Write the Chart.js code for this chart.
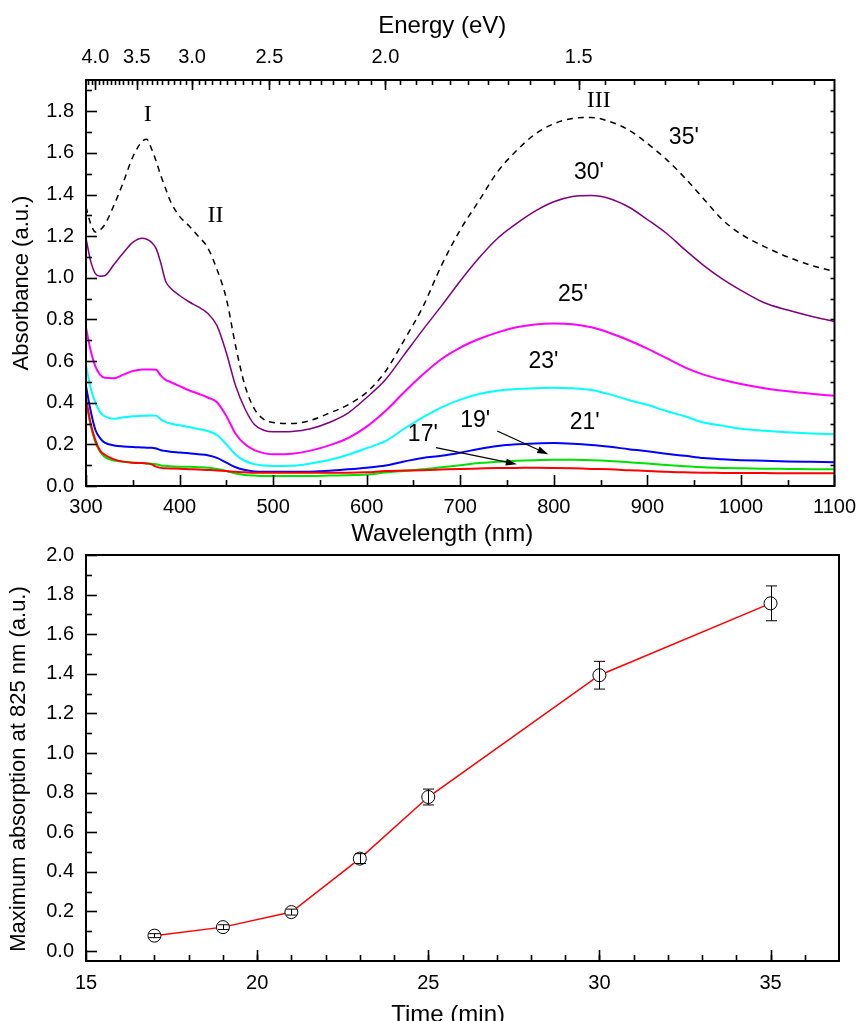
<!DOCTYPE html>
<html>
<head>
<meta charset="utf-8">
<script src="https://cdn.jsdelivr.net/npm/chart.js@4.4.0/dist/chart.umd.min.js"></script>
<style>
  html, body { margin: 0; padding: 0; background: #fff; }
  #wrap { position: relative; width: 865px; height: 1021px; overflow: hidden; }
  canvas { position: absolute; left: 0; }
  #spectra { top: 0; }
  #kinetics { top: 546px; }
</style>
</head>
<body>
<div id="wrap">
  <canvas id="spectra" width="865" height="550"></canvas>
  <canvas id="kinetics" width="865" height="485"></canvas>
</div>
<script>
// spectra, absorbance vs wavelength (nm)
var wavelengths = [300, 305, 310, 315, 320, 330, 340, 350, 360, 365, 370, 375, 380, 385, 390,
  400, 410, 420, 430, 440, 450, 460, 470, 480, 490, 500, 520, 540, 560, 580, 600, 620, 640,
  660, 680, 700, 720, 740, 760, 780, 800, 820, 840, 860, 880, 900, 920, 940, 960, 980, 1000,
  1025, 1050, 1075, 1100];

var abs17 = [0.42, 0.30, 0.22, 0.17, 0.15, 0.128, 0.117, 0.112, 0.110, 0.108, 0.104, 0.093, 0.087, 0.085, 0.084,
  0.083, 0.081, 0.079, 0.077, 0.075, 0.072, 0.068, 0.066, 0.064, 0.064, 0.064, 0.064, 0.064, 0.064, 0.064, 0.066, 0.072, 0.074,
  0.076, 0.079, 0.082, 0.084, 0.086, 0.087, 0.088, 0.087, 0.085, 0.082, 0.080, 0.076, 0.072, 0.068, 0.066, 0.064, 0.063, 0.062,
  0.062, 0.061, 0.061, 0.061];
var abs19 = [0.41, 0.29, 0.21, 0.165, 0.14, 0.122, 0.116, 0.112, 0.110, 0.108, 0.107, 0.104, 0.099, 0.097, 0.095,
  0.093, 0.092, 0.090, 0.088, 0.082, 0.072, 0.060, 0.053, 0.050, 0.048, 0.048, 0.048, 0.048, 0.050, 0.052, 0.055, 0.065, 0.072,
  0.080, 0.090, 0.100, 0.110, 0.117, 0.121, 0.124, 0.126, 0.126, 0.124, 0.120, 0.114, 0.108, 0.101, 0.095, 0.090, 0.087, 0.085,
  0.083, 0.082, 0.081, 0.080];
var abs21 = [0.48, 0.36, 0.27, 0.23, 0.208, 0.195, 0.190, 0.187, 0.185, 0.184, 0.184, 0.180, 0.172, 0.168, 0.165,
  0.161, 0.157, 0.152, 0.148, 0.135, 0.112, 0.090, 0.077, 0.070, 0.068, 0.068, 0.068, 0.069, 0.073, 0.080, 0.088, 0.098, 0.118,
  0.135, 0.145, 0.160, 0.178, 0.192, 0.200, 0.204, 0.206, 0.203, 0.197, 0.188, 0.177, 0.167, 0.155, 0.145, 0.134, 0.128, 0.124,
  0.121, 0.118, 0.116, 0.114];
var abs23 = [0.58, 0.47, 0.40, 0.355, 0.335, 0.323, 0.330, 0.335, 0.337, 0.338, 0.339, 0.338, 0.320, 0.308, 0.300,
  0.292, 0.283, 0.274, 0.264, 0.245, 0.200, 0.150, 0.120, 0.105, 0.098, 0.096, 0.097, 0.108, 0.125, 0.150, 0.182, 0.215, 0.275,
  0.330, 0.378, 0.415, 0.442, 0.458, 0.466, 0.470, 0.472, 0.469, 0.461, 0.440, 0.413, 0.390, 0.360, 0.335, 0.305, 0.290, 0.275,
  0.265, 0.258, 0.252, 0.248];
var abs25 = [0.76, 0.65, 0.575, 0.535, 0.52, 0.518, 0.535, 0.552, 0.560, 0.560, 0.560, 0.558, 0.530, 0.510, 0.500,
  0.480, 0.460, 0.443, 0.425, 0.402, 0.336, 0.250, 0.200, 0.172, 0.158, 0.152, 0.155, 0.170, 0.195, 0.230, 0.285, 0.360, 0.450,
  0.535, 0.610, 0.665, 0.706, 0.738, 0.762, 0.776, 0.780, 0.777, 0.762, 0.735, 0.700, 0.660, 0.615, 0.570, 0.535, 0.510, 0.490,
  0.470, 0.455, 0.443, 0.433];
var abs30 = [1.19, 1.08, 1.02, 1.008, 1.01, 1.065, 1.12, 1.17, 1.19, 1.185, 1.17, 1.14, 1.07, 0.985, 0.952,
  0.915, 0.885, 0.860, 0.830, 0.770, 0.640, 0.480, 0.370, 0.295, 0.268, 0.260, 0.262, 0.275, 0.305, 0.350, 0.425, 0.510, 0.630,
  0.750, 0.865, 0.985, 1.095, 1.19, 1.26, 1.32, 1.365, 1.39, 1.395, 1.38, 1.34, 1.28, 1.215, 1.135, 1.06, 0.995, 0.94,
  0.88, 0.845, 0.815, 0.79];
var abs35 = [1.34, 1.26, 1.22, 1.23, 1.255, 1.35, 1.46, 1.58, 1.655, 1.665, 1.62, 1.56, 1.49, 1.43, 1.37,
  1.295, 1.25, 1.20, 1.145, 1.04, 0.90, 0.67, 0.48, 0.37, 0.32, 0.305, 0.300, 0.315, 0.350, 0.390, 0.450, 0.550, 0.700,
  0.860, 1.06, 1.23, 1.37, 1.51, 1.61, 1.69, 1.74, 1.765, 1.77, 1.75, 1.71, 1.645, 1.57, 1.48, 1.38, 1.28, 1.21,
  1.15, 1.10, 1.06, 1.03];

// peak absorption vs reaction time
var times = [17, 19, 21, 23, 25, 30, 35];
var maxAbs = [0.078, 0.121, 0.197, 0.467, 0.778, 1.393, 1.756];
var maxAbsErr = [0.01, 0.012, 0.015, 0.025, 0.04, 0.07, 0.088];

// tick labels
var wlTicks = [300, 400, 500, 600, 700, 800, 900, 1000, 1100];
var energyTicks = [4.0, 3.5, 3.0, 2.5, 2.0, 1.5];
var absTicks = [0.0, 0.2, 0.4, 0.6, 0.8, 1.0, 1.2, 1.4, 1.6, 1.8];
var timeTicks = [15, 20, 25, 30, 35];
var maxAbsTicks = [0.0, 0.2, 0.4, 0.6, 0.8, 1.0, 1.2, 1.4, 1.6, 1.8, 2.0];

Chart.defaults.font.family = "'Liberation Sans', Arial, sans-serif";
Chart.defaults.color = '#000';

function pts(xs, ys) {
  return xs.map(function (x, i) { return { x: x, y: ys[i] }; });
}
function steps(from, to, step) {
  var out = [];
  for (var v = from; v <= to + 1e-9; v += step) out.push(Math.round(v * 1000) / 1000);
  return out;
}
// fixed axis sizes so the plot frames land where the original has them
function fixWidth(w) {
  return function (s) { s.width = w; s.paddingTop = 0; s.paddingBottom = 0; };
}
function fixHeight(h) {
  return function (s) { s.height = h; };
}

// Origin-style frame with inward ticks
var frameTicks = {
  id: 'frameTicks',
  afterDatasetsDraw: function (chart, args, opts) {
    var ctx = chart.ctx, a = chart.chartArea;
    ctx.save();
    ctx.strokeStyle = '#000';
    ctx.lineWidth = 1.6;
    (opts.marks || []).forEach(function (m) {
      var s = chart.scales[m.scale];
      m.values.forEach(function (v) {
        if (v < s.min - 1e-9 || v > s.max + 1e-9) return;
        var p = Math.round(s.getPixelForValue(v)) + 0.5;
        ctx.beginPath();
        if (m.side === 'bottom') { ctx.moveTo(p, a.bottom); ctx.lineTo(p, a.bottom - m.len); }
        else if (m.side === 'top') { ctx.moveTo(p, a.top); ctx.lineTo(p, a.top + m.len); }
        else if (m.side === 'left') { ctx.moveTo(a.left, p); ctx.lineTo(a.left + m.len, p); }
        else { ctx.moveTo(a.right, p); ctx.lineTo(a.right - m.len, p); }
        ctx.stroke();
      });
    });
    ctx.lineWidth = 2;
    ctx.strokeRect(a.left, a.top, a.right - a.left, a.bottom - a.top);
    ctx.restore();
  }
};

// curve labels and arrows, placed in data coordinates
var notes = {
  id: 'notes',
  afterDraw: function (chart, args, opts) {
    var ctx = chart.ctx, sx = chart.scales.x, sy = chart.scales.y;
    ctx.save();
    ctx.fillStyle = '#000';
    ctx.strokeStyle = '#000';
    ctx.textAlign = 'center';
    ctx.textBaseline = 'middle';
    (opts.labels || []).forEach(function (l) {
      ctx.font = l.font;
      ctx.fillText(l.text, sx.getPixelForValue(l.at[0]), sy.getPixelForValue(l.at[1]));
    });
    (opts.arrows || []).forEach(function (r) {
      var x1 = sx.getPixelForValue(r.from[0]), y1 = sy.getPixelForValue(r.from[1]);
      var x2 = sx.getPixelForValue(r.to[0]), y2 = sy.getPixelForValue(r.to[1]);
      var ang = Math.atan2(y2 - y1, x2 - x1);
      ctx.lineWidth = 1.3;
      ctx.beginPath();
      ctx.moveTo(x1, y1);
      ctx.lineTo(x2 - 8 * Math.cos(ang), y2 - 8 * Math.sin(ang));
      ctx.stroke();
      ctx.beginPath();
      ctx.moveTo(x2, y2);
      ctx.lineTo(x2 - 11 * Math.cos(ang) + 3.5 * Math.sin(ang), y2 - 11 * Math.sin(ang) - 3.5 * Math.cos(ang));
      ctx.lineTo(x2 - 11 * Math.cos(ang) - 3.5 * Math.sin(ang), y2 - 11 * Math.sin(ang) + 3.5 * Math.cos(ang));
      ctx.closePath();
      ctx.fill();
    });
    ctx.restore();
  }
};

// vertical error bars with caps
var errorBars = {
  id: 'errorBars',
  afterDatasetsDraw: function (chart, args, opts) {
    var ctx = chart.ctx, sx = chart.scales.x, sy = chart.scales.y;
    ctx.save();
    ctx.strokeStyle = '#000';
    ctx.lineWidth = 1;
    opts.x.forEach(function (t, i) {
      var px = Math.round(sx.getPixelForValue(t)) + 0.5;
      var top = sy.getPixelForValue(opts.y[i] + opts.err[i]);
      var bot = sy.getPixelForValue(opts.y[i] - opts.err[i]);
      ctx.beginPath();
      ctx.moveTo(px, top); ctx.lineTo(px, bot);
      ctx.moveTo(px - 5.5, top); ctx.lineTo(px + 5.5, top);
      ctx.moveTo(px - 5.5, bot); ctx.lineTo(px + 5.5, bot);
      ctx.stroke();
    });
    ctx.restore();
  }
};

var tickFont = { size: 20 };
var xTitleFont = { size: 24 };
var yTitleFont = { size: 22 };
var noGrid = { display: false, drawTicks: false, tickLength: 0 };
var energyMinor = steps(1.15, 4.1, 0.05);
var labelFont = "23px 'Liberation Sans', sans-serif";
var romanFont = "24px 'Liberation Serif', serif";

var series = [
  { label: "17'", data: abs17, color: '#ff0000', width: 2 },
  { label: "19'", data: abs19, color: '#00e000', width: 2 },
  { label: "21'", data: abs21, color: '#0000ff', width: 2 },
  { label: "23'", data: abs23, color: '#00ffff', width: 2 },
  { label: "25'", data: abs25, color: '#ff00ff', width: 2 },
  { label: "30'", data: abs30, color: '#800080', width: 1.5 },
  { label: "35'", data: abs35, color: '#000000', width: 1.5, dash: [6, 5] }
];

new Chart(document.getElementById('spectra'), {
  type: 'line',
  data: {
    datasets: series.map(function (s) {
      return {
        label: s.label,
        data: pts(wavelengths, s.data),
        borderColor: s.color,
        borderWidth: s.width,
        borderDash: s.dash || [],
        pointRadius: 0,
        fill: false,
        cubicInterpolationMode: 'monotone'
      };
    })
  },
  options: {
    responsive: false,
    animation: false,
    layout: { padding: { top: 0, right: 25, bottom: 0, left: 0 } },
    plugins: {
      legend: { display: false },
      tooltip: { enabled: false },
      frameTicks: {
        marks: [
          { scale: 'x', side: 'bottom', values: wlTicks, len: 11 },
          { scale: 'x', side: 'bottom', values: steps(350, 1050, 100), len: 6 },
          { scale: 'y', side: 'left', values: absTicks, len: 11 },
          { scale: 'y', side: 'left', values: steps(0.1, 1.9, 0.2), len: 6 },
          { scale: 'y', side: 'right', values: steps(0.1, 1.9, 0.1), len: 4 },
          { scale: 'x2', side: 'top', values: energyTicks.map(function (e) { return 1240 / e; }), len: 10 },
          { scale: 'x2', side: 'top', values: energyMinor.map(function (e) { return 1240 / e; }), len: 5 }
        ]
      },
      notes: {
        labels: [
          { text: 'I', at: [366, 1.785], font: romanFont },
          { text: 'II', at: [438.5, 1.30], font: romanFont },
          { text: 'III', at: [848, 1.85], font: romanFont },
          { text: "35'", at: [939, 1.672], font: labelFont },
          { text: "30'", at: [837.5, 1.507], font: labelFont },
          { text: "25'", at: [820.5, 0.92], font: labelFont },
          { text: "23'", at: [789, 0.596], font: labelFont },
          { text: "19'", at: [716, 0.312], font: labelFont },
          { text: "21'", at: [833, 0.304], font: labelFont },
          { text: "17'", at: [660, 0.248], font: labelFont }
        ],
        arrows: [
          { from: [674, 0.184], to: [760.5, 0.104] },
          { from: [739.5, 0.264], to: [794, 0.152] }
        ]
      }
    },
    scales: {
      x: {
        type: 'linear', position: 'bottom', min: 300, max: 1100,
        grid: noGrid, border: { display: false },
        afterBuildTicks: function (s) { s.ticks = wlTicks.map(function (v) { return { value: v }; }); },
        afterFit: fixHeight(64),
        ticks: { font: tickFont, padding: 9, maxRotation: 0, autoSkip: false,
          callback: function (v) { return String(v); } },
        title: { display: true, text: 'Wavelength (nm)\u2002\u2002\u2002', font: xTitleFont, padding: { top: 0, bottom: 1 } }
      },
      x2: {
        type: 'linear', position: 'top', min: 300, max: 1100,
        grid: noGrid, border: { display: false },
        afterBuildTicks: function (s) { s.ticks = energyTicks.map(function (e) { return { value: 1240 / e }; }); },
        afterFit: fixHeight(80),
        ticks: { font: tickFont, padding: 11, maxRotation: 0, autoSkip: false,
          callback: function (v) { return (1240 / v).toFixed(1); } },
        title: { display: true, text: 'Energy (eV)\u2002\u2002\u2002', font: xTitleFont, padding: { top: 12, bottom: 0 } }
      },
      y: {
        type: 'linear', position: 'left', min: 0, max: 1.95,
        grid: noGrid, border: { display: false },
        afterBuildTicks: function (s) { s.ticks = absTicks.map(function (v) { return { value: v }; }); },
        afterFit: fixWidth(86),
        ticks: { font: tickFont, padding: 12, callback: function (v) { return v.toFixed(1); } },
        title: { display: true, text: 'Absorbance (a.u.)', font: yTitleFont, padding: { top: 9, bottom: 0 } }
      }
    }
  },
  plugins: [frameTicks, notes]
});

new Chart(document.getElementById('kinetics'), {
  type: 'line',
  data: {
    datasets: [{
      label: 'Maximum absorption at 825 nm',
      data: pts(times, maxAbs),
      borderColor: '#ff0000',
      borderWidth: 1.5,
      pointRadius: 6.5,
      pointBackgroundColor: '#ffffff',
      pointBorderColor: '#000000',
      pointBorderWidth: 1,
      fill: false,
      tension: 0
    }]
  },
  options: {
    responsive: false,
    animation: false,
    layout: { padding: { top: 9, right: 26, bottom: 0, left: 0 } },
    plugins: {
      legend: { display: false },
      tooltip: { enabled: false },
      errorBars: { x: times, y: maxAbs, err: maxAbsErr },
      frameTicks: {
        marks: [
          { scale: 'x', side: 'bottom', values: timeTicks, len: 11 },
          { scale: 'x', side: 'bottom', values: steps(16, 36, 1), len: 6 },
          { scale: 'y', side: 'left', values: maxAbsTicks, len: 11 },
          { scale: 'y', side: 'left', values: steps(0.1, 1.9, 0.2), len: 6 }
        ]
      }
    },
    scales: {
      x: {
        type: 'linear', position: 'bottom', min: 15, max: 37,
        grid: noGrid, border: { display: false },
        afterBuildTicks: function (s) { s.ticks = timeTicks.map(function (v) { return { value: v }; }); },
        afterFit: fixHeight(70),
        ticks: { font: tickFont, padding: 10, maxRotation: 0, autoSkip: false,
          callback: function (v) { return String(v); } },
        title: { display: true, text: 'Time (min)\u2002\u2002\u2009', font: xTitleFont, padding: { top: 0, bottom: 1 } }
      },
      y: {
        type: 'linear', position: 'left', min: -0.05, max: 2.0,
        grid: noGrid, border: { display: false },
        afterBuildTicks: function (s) { s.ticks = maxAbsTicks.map(function (v) { return { value: v }; }); },
        afterFit: fixWidth(86),
        ticks: { font: tickFont, padding: 12, callback: function (v) { return v.toFixed(1); } },
        title: { display: true, text: 'Maximum absorption at 825 nm (a.u.)\u2003', font: yTitleFont, padding: { top: 6, bottom: 0 } }
      }
    }
  },
  plugins: [frameTicks, errorBars]
});
</script>
</body>
</html>
